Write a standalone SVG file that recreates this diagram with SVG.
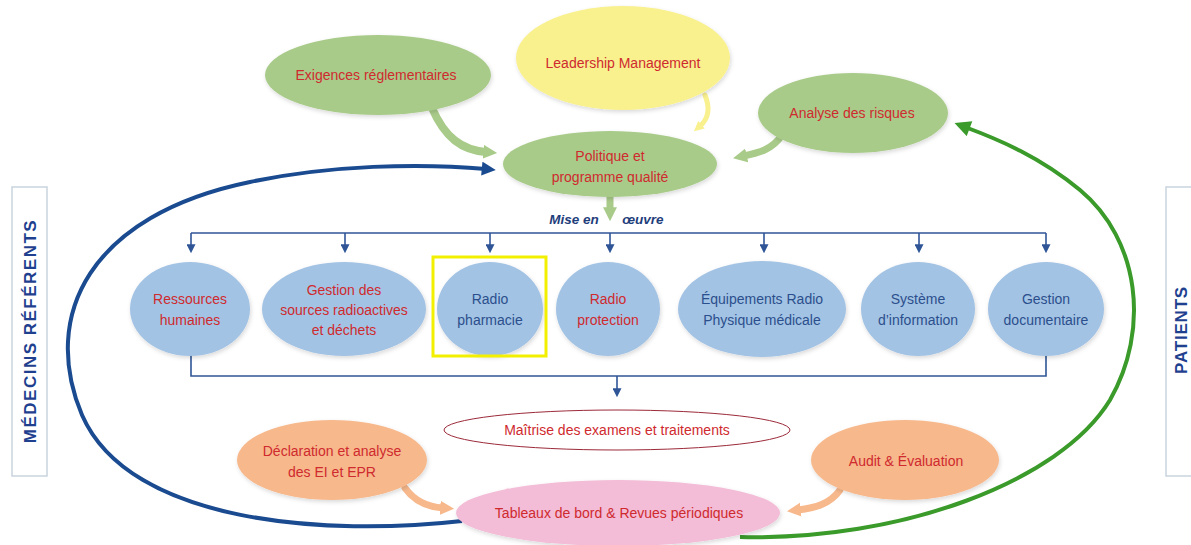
<svg xmlns="http://www.w3.org/2000/svg" width="1191" height="545" viewBox="0 0 1191 545">
<defs>
<style>
text{font-family:"Liberation Sans",Arial,sans-serif;font-size:14px;text-anchor:middle}
.red{fill:#cf2a2e}
.blu{fill:#2b4f8c}
.g{fill:#a9cb8a}
.y{fill:#f9f08e}
.b{fill:#a3c3e4}
.o{fill:#f7b88c}
.p{fill:#f3bcd7}
.side{fill:#fff;stroke:#c9d3de;stroke-width:1.5}
.st{font-weight:bold;font-size:17px;fill:#1f3f8f}
.br{fill:none;stroke:#2f5597;stroke-width:1.6}
.fat{fill:none;stroke-linecap:round}
</style>
<filter id="sh" x="-10%" y="-10%" width="120%" height="130%"><feDropShadow dx="1" dy="2" stdDeviation="2" flood-color="#000" flood-opacity="0.15"/></filter>
<marker id="ab" viewBox="0 0 10 10" refX="2" refY="5" markerWidth="9" markerHeight="9" markerUnits="userSpaceOnUse" orient="auto"><path d="M0,0 L10,5 L0,10 Z" fill="#2f5597"/></marker>
<marker id="aB" viewBox="0 0 10 10" refX="3" refY="5" markerWidth="16" markerHeight="14" markerUnits="userSpaceOnUse" orient="auto"><path d="M0,0 L10,5 L0,10 Z" fill="#1a4a8f"/></marker>
<marker id="aG" viewBox="0 0 10 10" refX="3" refY="5" markerWidth="18" markerHeight="16" markerUnits="userSpaceOnUse" orient="auto"><path d="M0,0 L10,5 L0,10 Z" fill="#3a9a2a"/></marker>
<marker id="ag" viewBox="0 0 10 10" refX="2" refY="5" markerWidth="14" markerHeight="16" markerUnits="userSpaceOnUse" orient="auto"><path d="M0,0 L10,5 L0,10 Z" fill="#a9cb8a"/></marker>
<marker id="ay" viewBox="0 0 10 10" refX="2" refY="5" markerWidth="10" markerHeight="12" markerUnits="userSpaceOnUse" orient="auto"><path d="M0,0 L10,5 L0,10 Z" fill="#f9f08e"/></marker>
<marker id="ao" viewBox="0 0 10 10" refX="2" refY="5" markerWidth="14" markerHeight="16" markerUnits="userSpaceOnUse" orient="auto"><path d="M0,0 L10,5 L0,10 Z" fill="#f7b88c"/></marker>
</defs>
<rect width="1191" height="545" fill="#fff"/>

<g id="side-left"><rect class="side" x="12" y="187" width="35" height="289"/><text class="st" transform="translate(36,331) rotate(-90)" letter-spacing="1.5">MÉDECINS RÉFÉRENTS</text></g>
<g id="side-right"><rect class="side" x="1166" y="187" width="40" height="289"/><text class="st" transform="translate(1187,330) rotate(-90)" letter-spacing="0.8">PATIENTS</text></g>

<g id="connectors">
<path d="M462,521 C330,536 130,525 82,415 C40,315 90,215 250,182 C330,165 420,163 486,169" fill="none" stroke="#1a4a8f" stroke-width="4" marker-end="url(#aB)"/>
<path d="M740,537 C900,541 1060,482 1110,400 C1150,330 1140,240 1080,190 C1040,157 1000,140 965,127" fill="none" stroke="#3a9a2a" stroke-width="4" marker-end="url(#aG)"/>
<path class="fat" d="M432,108 C445,138 462,150 486,152" stroke="#a9cb8a" stroke-width="8" marker-end="url(#ag)"/>
<path class="fat" d="M705,95 C711,110 707,120 700,126" stroke="#f9f08e" stroke-width="5" marker-end="url(#ay)"/>
<path class="fat" d="M782,135 C772,150 758,153 744,156" stroke="#a9cb8a" stroke-width="7" marker-end="url(#ag)"/>
<path class="fat" d="M610,196 L610,210" stroke="#a9cb8a" stroke-width="7" marker-end="url(#ag)"/>
<path class="fat" d="M405,488 C415,502 428,507 443,508" stroke="#f7b88c" stroke-width="7" marker-end="url(#ao)"/>
<path class="fat" d="M840,490 C830,504 815,508 798,510" stroke="#f7b88c" stroke-width="7" marker-end="url(#ao)"/>
<path class="br" d="M191,233 H1046"/>
<path class="br" d="M191,233 V246" marker-end="url(#ab)"/>
<path class="br" d="M345,233 V246" marker-end="url(#ab)"/>
<path class="br" d="M490,233 V246" marker-end="url(#ab)"/>
<path class="br" d="M610,233 V246" marker-end="url(#ab)"/>
<path class="br" d="M764,233 V246" marker-end="url(#ab)"/>
<path class="br" d="M919,233 V246" marker-end="url(#ab)"/>
<path class="br" d="M1046,233 V246" marker-end="url(#ab)"/>
<path class="br" d="M191,354 V376 H1046 V354"/>
<path class="br" d="M617,376 V390" marker-end="url(#ab)"/>
</g>

<g id="n-exigences"><ellipse class="g" filter="url(#sh)" cx="378" cy="75" rx="113" ry="40"/><text class="red" x="376" y="80">Exigences réglementaires</text></g>
<g id="n-leadership"><ellipse class="y" filter="url(#sh)" cx="623" cy="58" rx="107" ry="52"/><text class="red" x="623" y="68">Leadership Management</text></g>
<g id="n-analyse"><ellipse class="g" filter="url(#sh)" cx="853" cy="113" rx="95" ry="40"/><text class="red" x="852" y="118">Analyse des risques</text></g>
<g id="n-politique"><ellipse class="g" filter="url(#sh)" cx="610" cy="164" rx="107" ry="33"/><text class="red" x="610" y="161">Politique et</text><text class="red" x="610" y="182">programme qualité</text></g>
<g id="mise"><text x="574" y="224" style="font-weight:bold;font-style:italic;font-size:13.5px;fill:#1f3e7c">Mise en</text><text x="643" y="224" style="font-weight:bold;font-style:italic;font-size:13.5px;fill:#1f3e7c">œuvre</text></g>

<g id="n-rh"><ellipse class="b" filter="url(#sh)" cx="190" cy="309" rx="60" ry="47"/><text class="red" x="190" y="304">Ressources</text><text class="red" x="190" y="325">humaines</text></g>
<g id="n-gestion-sources"><ellipse class="b" filter="url(#sh)" cx="344" cy="309" rx="82" ry="47"/><text class="red" x="344" y="295">Gestion des</text><text class="red" x="344" y="315">sources radioactives</text><text class="red" x="344" y="335">et déchets</text></g>
<g id="n-radiopharmacie"><ellipse class="b" filter="url(#sh)" cx="490" cy="309" rx="53" ry="47"/><text class="blu" x="490" y="304">Radio</text><text class="blu" x="490" y="325">pharmacie</text><rect x="433" y="257" width="113" height="99" fill="none" stroke="#f2ef00" stroke-width="3"/></g>
<g id="n-radioprotection"><ellipse class="b" filter="url(#sh)" cx="608" cy="309" rx="52" ry="47"/><text class="red" x="608" y="304">Radio</text><text class="red" x="608" y="325">protection</text></g>
<g id="n-equipements"><ellipse class="b" filter="url(#sh)" cx="762" cy="309" rx="84" ry="48"/><text class="blu" x="762" y="304">Équipements Radio</text><text class="blu" x="762" y="325">Physique médicale</text></g>
<g id="n-systeme"><ellipse class="b" filter="url(#sh)" cx="918" cy="309" rx="57" ry="47"/><text class="blu" x="918" y="304">Système</text><text class="blu" x="918" y="325">d’information</text></g>
<g id="n-gestion-doc"><ellipse class="b" filter="url(#sh)" cx="1046" cy="309" rx="58" ry="47"/><text class="blu" x="1046" y="304">Gestion</text><text class="blu" x="1046" y="325">documentaire</text></g>

<g id="n-maitrise"><ellipse cx="617" cy="430" rx="173" ry="20" fill="#fff" stroke="#9c2a3a" stroke-width="1"/><text class="red" x="617" y="435">Maîtrise des examens et traitements</text></g>
<g id="n-declaration"><ellipse class="o" filter="url(#sh)" cx="332" cy="460" rx="95" ry="40"/><text class="red" x="332" y="456">Déclaration et analyse</text><text class="red" x="332" y="477">des EI et EPR</text></g>
<g id="n-audit"><ellipse class="o" filter="url(#sh)" cx="905" cy="460" rx="94" ry="40"/><text class="red" x="906" y="466">Audit &amp; Évaluation</text></g>
<g id="n-tableaux"><ellipse class="p" filter="url(#sh)" cx="618" cy="513" rx="162" ry="33"/><text class="red" x="619" y="518">Tableaux de bord &amp; Revues périodiques</text></g>
</svg>
